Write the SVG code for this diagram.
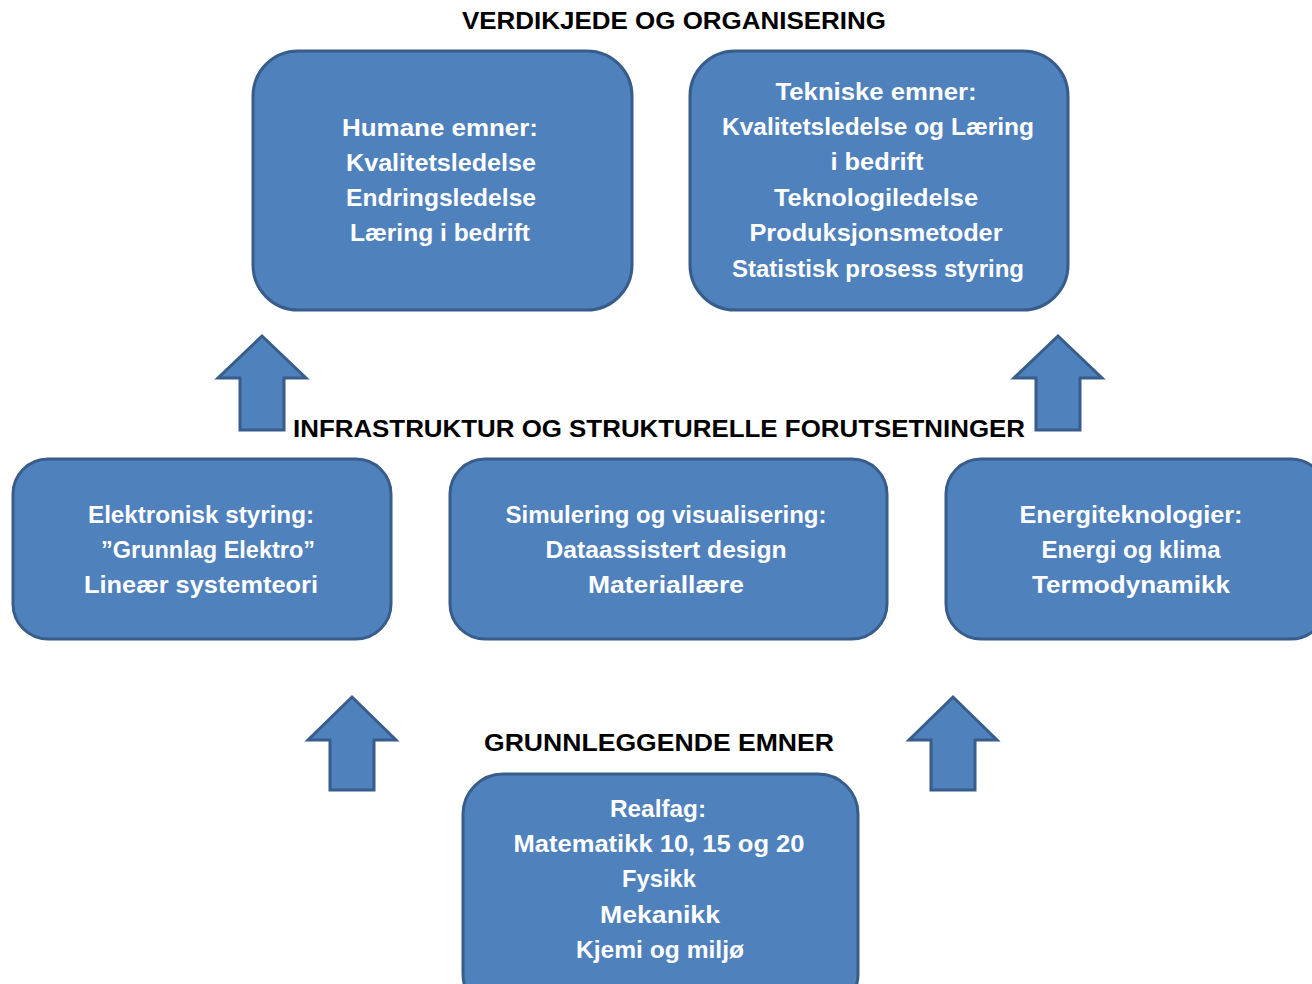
<svg xmlns="http://www.w3.org/2000/svg" width="1312" height="984" viewBox="0 0 1312 984">
<style>
.box{fill:#4F81BD;stroke:#385D8A;stroke-width:3}
.arr{fill:#4F81BD;stroke:#385D8A;stroke-width:3;stroke-linejoin:miter}
.t{font-family:"Liberation Sans",Arial,sans-serif;font-weight:bold;font-size:23px;fill:#FFFFFF;text-anchor:middle}
.h{font-family:"Liberation Sans",Arial,sans-serif;font-weight:bold;font-size:23px;fill:#000000;text-anchor:middle}
</style>
<rect width="1312" height="984" fill="#FFFFFF"/>
<g id="headings">
<text class="h" x="674" y="29" textLength="424" lengthAdjust="spacingAndGlyphs">VERDIKJEDE OG ORGANISERING</text>
<text class="h" x="659" y="437" textLength="732" lengthAdjust="spacingAndGlyphs">INFRASTRUKTUR OG STRUKTURELLE FORUTSETNINGER</text>
<text class="h" x="659" y="751" textLength="350" lengthAdjust="spacingAndGlyphs">GRUNNLEGGENDE EMNER</text>
</g>
<g id="connectors">
<polygon class="arr" points="262,336 306,378 284,378 284,430 240,430 240,378 218,378"/>
<polygon class="arr" points="1058,336 1102,378 1080,378 1080,430 1036,430 1036,378 1014,378"/>
<polygon class="arr" points="352,697 396,740 374,740 374,790 330,790 330,740 308,740"/>
<polygon class="arr" points="953,697 997,740 975,740 975,790 931,790 931,740 909,740"/>
</g>
<g id="humane">
<rect class="box" x="253" y="51" width="379" height="259" rx="45"/>
<text class="t" x="440" y="136" textLength="196" lengthAdjust="spacingAndGlyphs">Humane emner:</text>
<text class="t" x="441" y="171" textLength="190" lengthAdjust="spacingAndGlyphs">Kvalitetsledelse</text>
<text class="t" x="441" y="206" textLength="190" lengthAdjust="spacingAndGlyphs">Endringsledelse</text>
<text class="t" x="440" y="241" textLength="180" lengthAdjust="spacingAndGlyphs">Læring i bedrift</text>
</g>
<g id="tekniske">
<rect class="box" x="690" y="51" width="378" height="259" rx="45"/>
<text class="t" x="876" y="100" textLength="201" lengthAdjust="spacingAndGlyphs">Tekniske emner:</text>
<text class="t" x="878" y="135" textLength="312" lengthAdjust="spacingAndGlyphs">Kvalitetsledelse og Læring</text>
<text class="t" x="877" y="170" textLength="93" lengthAdjust="spacingAndGlyphs">i bedrift</text>
<text class="t" x="876" y="206" textLength="204" lengthAdjust="spacingAndGlyphs">Teknologiledelse</text>
<text class="t" x="876" y="241" textLength="253" lengthAdjust="spacingAndGlyphs">Produksjonsmetoder</text>
<text class="t" x="878" y="277" textLength="292" lengthAdjust="spacingAndGlyphs">Statistisk prosess styring</text>
</g>
<g id="elektronisk">
<rect class="box" x="13" y="459" width="378" height="180" rx="35"/>
<text class="t" x="201" y="523" textLength="226" lengthAdjust="spacingAndGlyphs">Elektronisk styring:</text>
<text class="t" x="208" y="558" textLength="214" lengthAdjust="spacingAndGlyphs">”Grunnlag Elektro”</text>
<text class="t" x="201" y="593" textLength="234" lengthAdjust="spacingAndGlyphs">Lineær systemteori</text>
</g>
<g id="simulering">
<rect class="box" x="450" y="459" width="437" height="180" rx="35"/>
<text class="t" x="666" y="523" textLength="321" lengthAdjust="spacingAndGlyphs">Simulering og visualisering:</text>
<text class="t" x="666" y="558" textLength="241" lengthAdjust="spacingAndGlyphs">Dataassistert design</text>
<text class="t" x="666" y="593" textLength="156" lengthAdjust="spacingAndGlyphs">Materiallære</text>
</g>
<g id="energi">
<rect class="box" x="946" y="459" width="380" height="180" rx="35"/>
<text class="t" x="1131" y="523" textLength="223" lengthAdjust="spacingAndGlyphs">Energiteknologier:</text>
<text class="t" x="1131" y="558" textLength="179" lengthAdjust="spacingAndGlyphs">Energi og klima</text>
<text class="t" x="1131" y="593" textLength="198" lengthAdjust="spacingAndGlyphs">Termodynamikk</text>
</g>
<g id="realfag">
<rect class="box" x="463" y="774" width="395" height="240" rx="40"/>
<text class="t" x="658" y="817" textLength="96" lengthAdjust="spacingAndGlyphs">Realfag:</text>
<text class="t" x="659" y="852" textLength="291" lengthAdjust="spacingAndGlyphs">Matematikk 10, 15 og 20</text>
<text class="t" x="659" y="887" textLength="74" lengthAdjust="spacingAndGlyphs">Fysikk</text>
<text class="t" x="660" y="923" textLength="120" lengthAdjust="spacingAndGlyphs">Mekanikk</text>
<text class="t" x="660" y="958" textLength="168" lengthAdjust="spacingAndGlyphs">Kjemi og miljø</text>
</g>
</svg>
